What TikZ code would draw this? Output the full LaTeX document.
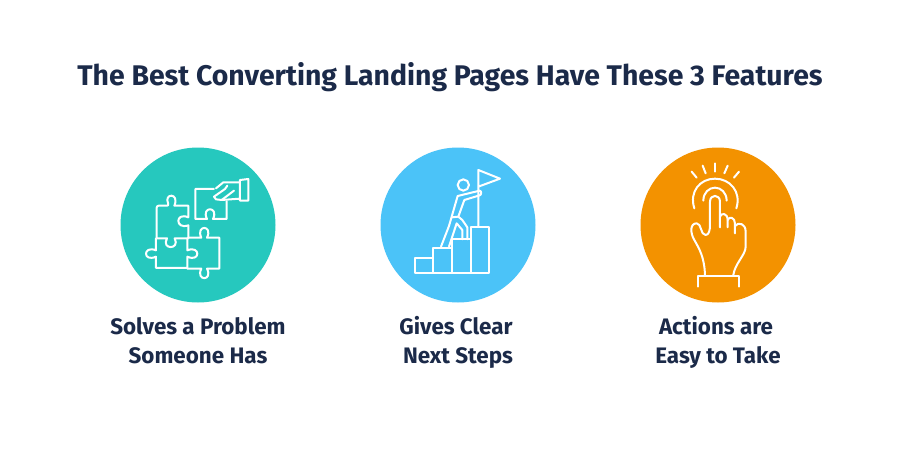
\documentclass[tikz,border=0pt]{standalone}
\usepackage{fontspec}
\setmainfont{Fira Sans}[BoldFont={* Bold}]
\definecolor{ink}{HTML}{1B2A49}
\definecolor{teal}{HTML}{26C8BE}
\definecolor{sky}{HTML}{4BC3F8}
\definecolor{amber}{HTML}{F39200}
\tikzset{
 disc/.style={circle,minimum size=155pt,inner sep=0pt,fill=#1},
 headline/.style={font=\bfseries\fontsize{28.4pt}{32pt}\selectfont,text=ink,inner sep=0pt,anchor=base},
 caption/.style={font=\bfseries\fontsize{22.4pt}{26pt}\selectfont,text=ink,inner sep=0pt,anchor=base},
 icon/.style={draw=white,line width=2pt,line join=round,line cap=round},
 zoomed/.style={x=0.3333pt,y=-0.3333pt}
}
\begin{document}
\begin{tikzpicture}[x=1pt,y=-1pt]
\useasboundingbox (0,0) rectangle (900,450);
\fill[white] (0,0) rectangle (900,450);
\node[headline] (head) at (450,85) {The Best Converting Landing Pages Have These 3 Features};
\node[disc=teal] (c1) at (198,225) {};
\node[disc=sky] (c2) at (458,225) {};
\node[disc=amber] (c3) at (718,225) {};
\node[caption] (a1) at (198,334) {Solves a Problem};
\node[caption] (a2) at (198,363) {Someone Has};
\node[caption] (b1) at (456,334) {Gives Clear};
\node[caption] (b2) at (458,363) {Next Steps};
\node[caption] (d1) at (716,334) {Actions are};
\node[caption] (d2) at (718,363) {Easy to Take};
% puzzle
\begin{scope}[shift={(110,140)},zoomed,icon]
\draw (140,295) -- (140,204) [rounded corners=2pt] -- (140,197) -- (177,197) [sharp corners]
  .. controls (160,158) and (210,158) .. (193,197)
  -- (235,197) -- (235,232) .. controls (195,215) and (195,270) .. (235,256)
  -- (235,295) -- (194,295) .. controls (212,330) and (152,330) .. (171,295) -- cycle;
\draw (138,295) -- (138,331) .. controls (98,315) and (98,368) .. (138,350)
  -- (138,384) -- (232,384) -- (232,350) .. controls (272,368) and (272,315) .. (232,331) -- (232,295);
\draw (235,293) -- (274,293) .. controls (256,254) and (310,254) .. (291,293)
  -- (328,293) -- (328,386) -- (291,386) .. controls (310,424) and (256,424) .. (274,386) -- (232,386);
\draw (312,147) -- (256,147) -- (256,237) -- (291,237) .. controls (272,198) and (328,198) .. (309,237)
  -- (350,237) -- (350,184);
\draw (390,120) -- (415,117) -- (415,182) -- (390,182) -- cycle;
\draw (390,127) -- (340,127) -- (318,145);
\draw (390,176) -- (362,178) -- (335,180) -- (318,178) -- (312,170) -- (345,147) -- (352,137);
\draw (335,180) -- (372,152);
\end{scope}
% climber
\begin{scope}[shift={(375,140)},zoomed,icon]
\draw (120,353) rectangle (175,398);
\draw (175,323) rectangle (231,398);
\draw (231,298) rectangle (287,398);
\draw (287,262) rectangle (343,398);
\draw (310,258) -- (310,90) -- (375,116) -- (310,140);
\draw (265,135) circle[radius=17];
\draw (198,320) -- (222,258) -- (248,168) -- (314,152) .. controls (320,152) and (320,165) .. (314,166) -- (268,180) -- (250,230) -- (262,240) -- (277,262) -- (277,298);
\draw (262,298) -- (262,270) -- (245,250) -- (222,320);
\draw (232,232) -- (250,230);
\end{scope}
% tap
\begin{scope}[shift={(635,140)},zoomed,icon]
\draw (170,95) -- (185,113);
\draw (203,77) -- (212,100);
\draw (240,70) -- (240,95);
\draw (278,77) -- (268,100);
\draw (312,95) -- (297,113);
\draw (178,205) .. controls (162,155) and (195,116) .. (240,116) .. controls (285,116) and (320,155) .. (304,205);
\draw (205,182) .. controls (205,158) and (222,143) .. (240,143) .. controls (258,143) and (275,158) .. (275,182);
\draw (210,405) .. controls (208,350) and (192,325) .. (178,300) .. controls (165,278) and (165,250) .. (185,250)
  .. controls (200,250) and (196,285) .. (212,285) .. controls (222,285) and (225,270) .. (225,255)
  -- (225,185) .. controls (225,162) and (255,162) .. (255,185) -- (255,262);
\draw (255,230) .. controls (258,218) and (278,218) .. (278,240) -- (278,262);
\draw (278,240) .. controls (282,228) and (300,232) .. (300,250) -- (300,280);
\draw (300,258) .. controls (310,245) and (332,250) .. (332,275) -- (332,320) .. controls (332,345) and (300,370) .. (295,405);
\draw (188,440) -- (188,408) -- (312,408) -- (312,440);
\end{scope}
\end{tikzpicture}
\end{document}
